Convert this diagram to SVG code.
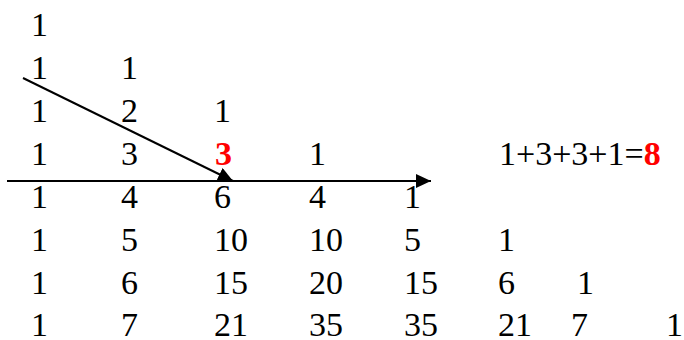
<svg xmlns="http://www.w3.org/2000/svg" width="684" height="340" viewBox="0 0 684 340">
<style>
text{font-family:"Liberation Serif","Times New Roman",serif;font-size:34px;fill:#000}
.r{fill:#ff0000;font-weight:bold}
.ln{stroke:#000;stroke-width:2;fill:none}
</style>
<defs>
<marker id="ah" markerUnits="userSpaceOnUse" markerWidth="16" markerHeight="14" refX="15" refY="7" orient="auto">
<path d="M0,0 L15,7 L0,14 Z" fill="#000"/>
</marker>
</defs>
<rect width="684" height="340" fill="#fff"/>
<g id="row0"><text x="31" y="36">1</text></g>
<g id="row1"><text x="31" y="79">1</text><text x="121" y="79">1</text></g>
<g id="row2"><text x="31" y="122">1</text><text x="121" y="122">2</text><text x="214" y="122">1</text></g>
<g id="row3"><text x="31" y="165">1</text><text x="121" y="165">3</text><text class="r" x="215" y="165">3</text><text x="309" y="165">1</text></g>
<g id="row4"><text x="31" y="208">1</text><text x="121" y="208">4</text><text x="214" y="208">6</text><text x="309" y="208">4</text><text x="404" y="208">1</text></g>
<g id="row5"><text x="31" y="251">1</text><text x="121" y="251">5</text><text x="214" y="251">10</text><text x="309" y="251">10</text><text x="404" y="251">5</text><text x="498" y="251">1</text></g>
<g id="row6"><text x="31" y="294">1</text><text x="121" y="294">6</text><text x="214" y="294">15</text><text x="309" y="294">20</text><text x="404" y="294">15</text><text x="498" y="294">6</text><text x="577" y="294">1</text></g>
<g id="row7"><text x="31" y="336">1</text><text x="121" y="336">7</text><text x="214" y="336">21</text><text x="309" y="336">35</text><text x="404" y="336">35</text><text x="498" y="336">21</text><text x="571" y="336">7</text><text x="666" y="336">1</text></g>
<g id="equation"><text x="499" y="165">1+3+3+1=<tspan class="r">8</tspan></text></g>
<g id="connectors">
<line class="ln" x1="23" y1="78" x2="233" y2="181" marker-end="url(#ah)"/>
<line class="ln" x1="7" y1="181" x2="431" y2="181" marker-end="url(#ah)"/>
</g>
</svg>
